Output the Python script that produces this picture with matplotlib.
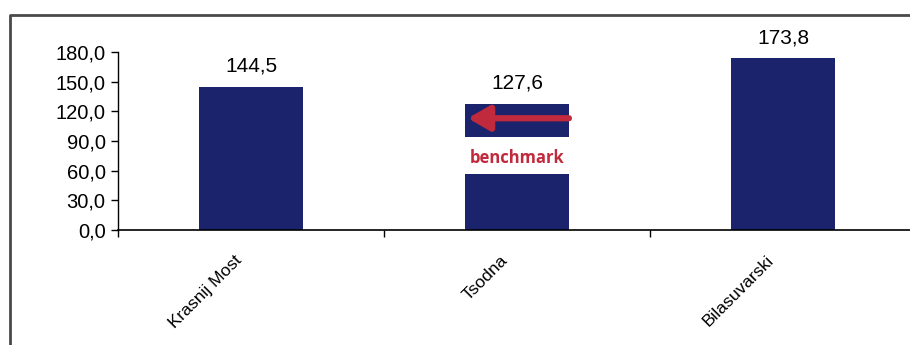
import matplotlib.pyplot as plt
from matplotlib.lines import Line2D
from matplotlib.transforms import ScaledTranslation

plt.rcParams['font.family'] = ['Liberation Sans', 'DejaVu Sans']

# Sites and their values
sites = ['Krasnij Most', 'Tsodna', 'Bilasuvarski']
values = [144.5, 127.6, 173.8]

# Benchmark band cut out of the Tsodna bar
bench_site = 1
bench_low = 57.0
bench_high = 94.0
bench_arrow_y = 113.0
bench_label_y = 73.0

yticks = [0, 30, 60, 90, 120, 150, 180]

bar_color = '#1a236c'
red = '#c02a3c'
width = 0.39

fig = plt.figure(figsize=(9.1, 3.45), dpi=100)
ax = fig.add_axes([0.1297, 0.3333, 0.877, 0.516])

for i, (name, v) in enumerate(zip(sites, values)):
    if i == bench_site:
        ax.bar(i, bench_low, width=width, color=bar_color)
        ax.bar(i, v - bench_high, bottom=bench_high, width=width, color=bar_color)
    else:
        ax.bar(i, v, width=width, color=bar_color)
    ax.annotate(f'{v:.1f}'.replace('.', ','), (i, v), xytext=(0, 8),
                textcoords='offset points', ha='center', va='bottom', fontsize=15)

# benchmark arrow and label
ax.annotate('', xy=(bench_site - width / 2 + 0.01, bench_arrow_y),
            xytext=(bench_site + width / 2, bench_arrow_y),
            arrowprops=dict(arrowstyle='-|>,head_length=1.3,head_width=0.75',
                            color=red, lw=4.5, shrinkA=0, shrinkB=0))
ax.text(bench_site, bench_label_y, 'benchmark', color=red, fontsize=12,
        fontweight='bold', ha='center', va='center', family=['Open Sans', 'DejaVu Sans'])

ax.set_xlim(-0.5, len(sites) - 0.5)
ax.set_ylim(0, 180)
ax.set_yticks(yticks)
ax.set_yticklabels([f'{t:.1f}'.replace('.', ',') for t in yticks], fontsize=14.5)

ax.set_xticks(range(len(sites)))
ax.set_xticklabels(sites, rotation=45, ha='right', va='top',
                   rotation_mode='anchor', fontsize=12.5)
ax.set_xticks([i - 0.5 for i in range(len(sites) + 1)], minor=True)
ax.tick_params(axis='x', which='major', length=0, pad=16)
ax.tick_params(axis='x', which='minor', length=5, width=1, direction='out')
ax.tick_params(axis='y', length=5, width=1, direction='out', pad=4)

# nudge the slanted labels left of the bar centres
shift = ScaledTranslation(-17 / 100, 0, fig.dpi_scale_trans)
for lbl in ax.get_xticklabels():
    lbl.set_transform(lbl.get_transform() + shift)

for s in ['top', 'right']:
    ax.spines[s].set_visible(False)
ax.spines['left'].set_linewidth(1)
ax.spines['bottom'].set_linewidth(1.2)

# outer frame (top and left edges)
fig.add_artist(Line2D([10 / 910, 10 / 910, 1.01], [0.0, 1 - 15 / 345, 1 - 15 / 345],
                      transform=fig.transFigure, color='#4a4a4a', lw=2))

fig.savefig('out.png', dpi=100)
